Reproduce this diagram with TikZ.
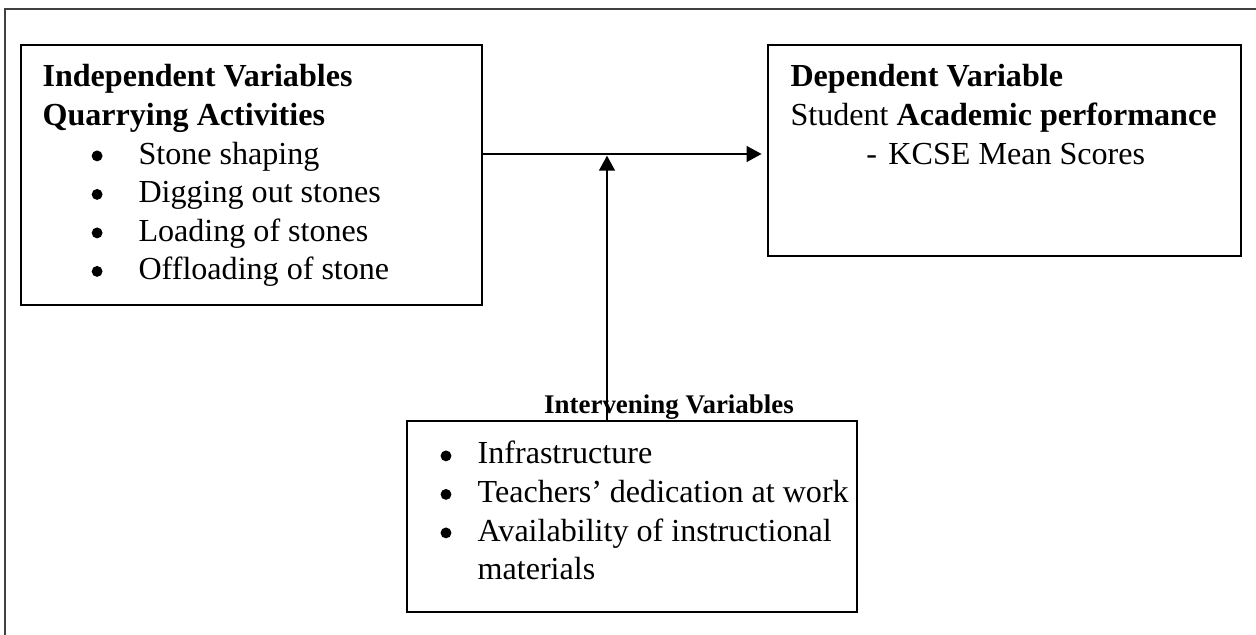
\documentclass[tikz,border=0pt]{standalone}
\usepackage{fontspec}
\setmainfont{Liberation Serif}
\usetikzlibrary{arrows.meta, positioning, fit}

% bullet (or dash) column of a list line
\newcommand{\blt}[3]{\hspace*{#1}\makebox[#2][l]{#3}}
\newcommand{\dotmark}{\tikz[baseline=0pt]\fill (1.9pt,2.9pt) circle (1.95pt);}

\begin{document}
\begin{tikzpicture}[x=0.3584pt, y=-0.3584pt,
      >={Triangle[length=5.4pt, width=5.7pt]},
      box/.style={draw, line width=0.6pt, inner sep=0pt},
      txt/.style={anchor=base west, inner sep=0pt, font=\fontsize{11.5}{13.8}\selectfont},
      link/.style={->, line width=0.7pt}]
    \useasboundingbox (0,0) rectangle (1256,635);
    \draw[line width=0.7pt, black!75] (1256,9) -- (5,9) -- (5,635);

    % boxes
    \node[box, fit={(21,45) (482,305)}] (indep) {};
    \node[box, fit={(768,45) (1241,256)}] (dep) {};
    \node[box, fit={(407,421) (857,612)}] (interv) {};

    % texts
    \node[txt] (indeptxt) at (42,87) {\begin{tabular}[t]{@{}l@{}}
        \textbf{Independent Variables}\\
        \textbf{Quarrying Activities}\\
        \blt{17.6pt}{16.8pt}{\dotmark}Stone shaping\\
        \blt{17.6pt}{16.8pt}{\dotmark}Digging out stones\\
        \blt{17.6pt}{16.8pt}{\dotmark}Loading of stones\\
        \blt{17.6pt}{16.8pt}{\dotmark}Offloading of stone
      \end{tabular}};
    \node[txt] (deptxt) at (790,87) {\begin{tabular}[t]{@{}l@{}}
        \textbf{Dependent Variable}\\
        Student \textbf{Academic performance}\\
        \blt{27.2pt}{7.9pt}{-}KCSE Mean Scores
      \end{tabular}};
    \node[txt] (intervtxt) at (440,464) {\begin{tabular}[t]{@{}l@{}}
        \blt{0pt}{13.3pt}{\dotmark}Infrastructure\\
        \blt{0pt}{13.3pt}{\dotmark}Teachers’ dedication at work\\
        \blt{0pt}{13.3pt}{\dotmark}Availability of instructional\\
        \blt{0pt}{13.3pt}{}materials
      \end{tabular}};
    \node[anchor=base, inner sep=0pt, font=\fontsize{9.65}{12}\selectfont\bfseries]
      (intervlbl) at (669,414) {Intervening Variables};

    % connectors
    \coordinate (join) at (607,154);
    \draw[link, shorten >=2pt] (indep.east |- join) -- (dep.west |- join);
    \draw[link, shorten >=0.6pt] (interv.north -| join) -- (join);
\end{tikzpicture}
\end{document}
